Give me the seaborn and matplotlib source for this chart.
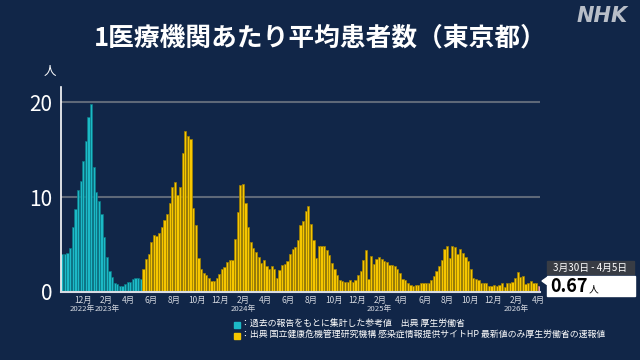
import matplotlib
matplotlib.use("Agg")
import matplotlib.pyplot as plt
from matplotlib.patches import Rectangle, Polygon
import seaborn as sns
import pandas as pd

# ----------------------------------------------------------
# data (weekly values)
# ----------------------------------------------------------
first_week = "2022-10-03"

ref_values = [4.0, 4.0, 4.1, 4.6, 6.9, 8.7, 10.7, 11.7, 13.8, 15.9, 18.4, 19.8, 13.2,
              10.5, 9.6, 8.2, 5.8, 3.7, 2.2, 1.6, 0.9, 0.8, 0.6, 0.6, 0.8, 1.1, 1.1,
              1.4, 1.5, 1.5, 1.4]

jihs_values = [2.4, 3.5, 4.0, 5.3, 6.0, 5.9, 6.2, 6.8, 7.6, 8.2, 9.4, 11.1, 11.6, 10.2,
               11.1, 14.6, 17.0, 16.4, 16.1, 8.9, 7.1, 3.6,
               2.4, 2.0, 1.8, 1.5, 1.2, 1.2, 1.5, 1.9, 2.4, 2.6, 3.2, 3.4, 3.4, 5.6,
               8.4, 11.3, 11.4, 9.4, 6.9, 5.3, 4.6, 4.2, 3.7, 3.1, 3.4, 2.7, 2.4, 2.7,
               2.4, 1.5, 2.3, 2.8, 3.0, 3.3, 4.0, 4.5, 4.7, 5.5, 7.1, 7.5, 8.5, 9.1,
               7.2, 5.5, 3.6, 4.8, 4.8, 4.8, 4.4, 3.9, 3.1, 2.4, 1.8, 1.3, 1.2, 1.1,
               1.1, 1.3, 1.1, 1.3, 1.8,
               2.2, 3.4, 4.4, 1.4, 3.8, 2.9, 3.5, 3.7, 3.5, 3.3, 3.2, 2.8, 2.8, 2.7,
               2.4, 2.0, 1.4, 1.3, 1.0, 0.7, 0.6, 0.7, 0.7, 0.9, 1.0, 0.9, 0.9, 1.3,
               1.7, 2.2, 2.7, 3.4, 4.5, 4.8, 3.6, 4.8, 4.7, 4.0, 4.5, 4.1, 3.7, 3.3,
               2.4, 1.5, 1.4, 1.3, 1.0, 1.0, 0.9, 0.6, 0.6, 0.7, 0.6, 0.7, 0.9, 0.5,
               0.9, 0.9, 1.1, 1.5, 2.1,
               1.6, 1.65, 0.85, 1.0, 1.15, 1.0, 1.0]

latest_values = [0.67]

month_ticks = ["2022-12-01", "2023-02-01", "2023-04-01", "2023-06-01", "2023-08-01",
               "2023-10-01", "2023-12-01", "2024-02-01", "2024-04-01", "2024-06-01",
               "2024-08-01", "2024-10-01", "2024-12-01", "2025-02-01", "2025-04-01",
               "2025-06-01", "2025-08-01", "2025-10-01", "2025-12-01", "2026-02-01",
               "2026-04-01"]
year_ticks = {"2022-12-01": "2022年", "2023-02-01": "2023年", "2024-02-01": "2024年",
              "2025-02-01": "2025年", "2026-02-01": "2026年"}

title = "1医療機関あたり平均患者数（東京都）"
legend_ref = "：過去の報告をもとに集計した参考値　出典 厚生労働省"
legend_jihs = "：出典 国立健康危機管理研究機構 感染症情報提供サイトHP 最新値のみ厚生労働省の速報値"
latest_period = "3月30日 - 4月5日"

# ----------------------------------------------------------
# style
# ----------------------------------------------------------
BG = "#112648"
colors = {"ref": "#1cb9c6", "jihs": "#f6c600", "latest": "#f2a3ab"}
edges = {"ref": "#0b7a86", "jihs": "#a08000", "latest": "#c07880"}

sns.set_style("white")
plt.rcParams["font.family"] = ["Noto Sans CJK JP", "DejaVu Sans"]

kinds = ["ref"] * len(ref_values) + ["jihs"] * len(jihs_values) + ["latest"] * len(latest_values)
values = ref_values + jihs_values + latest_values
weeks = pd.date_range(first_week, periods=len(values), freq="7D")
df = pd.DataFrame({"week": weeks.strftime("%Y-%m-%d"), "value": values, "kind": kinds})
n = len(df)


def fx(px):
    return px / 640


def fy(py):
    return 1 - py / 360


def week_pos(d):
    # position of a calendar date on the weekly bar scale
    return ((pd.Timestamp(d) - pd.Timestamp(first_week)).days - 3) / 7


fig = plt.figure(figsize=(6.4, 3.6), dpi=100, facecolor=BG)
ax = fig.add_axes([fx(61), fy(292), 479 / 640, 205 / 360])
ax.set_facecolor(BG)

sns.barplot(data=df, x="week", y="value", hue="kind", hue_order=["ref", "jihs", "latest"],
            palette=colors, dodge=False, width=0.85, saturation=1, legend=False, ax=ax)
for patch, k in zip(ax.patches, df["kind"]):
    patch.set_edgecolor(edges[k])
    patch.set_linewidth(0.5)

ax.set_xlim(-0.5, n - 0.5)
ax.set_ylim(0, 21.6)
ax.set_axisbelow(True)
ax.set_yticks([0, 10, 20])
ax.set_yticklabels(["0", "10", "20"], fontsize=15, color="white")
ax.yaxis.grid(True, color="#5e6878", lw=1.5)
ax.xaxis.grid(False)

ax.set_xticks([week_pos(d) for d in month_ticks])
ax.set_xticklabels([f"{pd.Timestamp(d).month}月" for d in month_ticks], fontsize=6, color="#d4d8e0")
ax.tick_params(length=0)
ax.tick_params(axis="y", pad=6)
ax.tick_params(axis="x", pad=3.2)
ax.set_xlabel("")
ax.set_ylabel("")

# year labels; the first two sit back to back
first_two = list(year_ticks)[:2]
mid = (week_pos(first_two[0]) + week_pos(first_two[1])) / 2
for d, lab in year_ticks.items():
    if d == first_two[0]:
        p, ha = mid, "right"
    elif d == first_two[1]:
        p, ha = mid, "left"
    else:
        p, ha = week_pos(d), "center"
    ax.text(p, -16.5 / 205, lab, transform=ax.get_xaxis_transform(), ha=ha, va="center",
            fontsize=5.6, color="#d4d8e0")

for s in ["top", "right"]:
    ax.spines[s].set_visible(False)
ax.spines["left"].set_color("white")
ax.spines["left"].set_linewidth(1.2)
ax.spines["bottom"].set_color("#d8dce4")
ax.spines["bottom"].set_linewidth(1.5)

# texts
fig.text(fx(320), fy(38), title, ha="center", va="center", fontsize=18.5, weight="bold", color="white")
fig.text(fx(602), fy(16), "NHK", ha="center", va="center", fontsize=15, style="italic",
         weight="heavy", color="#b8bec8", family="DejaVu Sans")
fig.text(fx(50), fy(72), "人", ha="center", va="center", fontsize=9, color="white")

# legend
fig.patches.append(Rectangle((fx(234), fy(328)), 6 / 640, 6 / 360, transform=fig.transFigure,
                             color=colors["ref"]))
fig.patches.append(Rectangle((fx(234), fy(339)), 6 / 640, 6 / 360, transform=fig.transFigure,
                             color=colors["jihs"]))
fig.text(fx(241), fy(323), legend_ref, ha="left", va="center", fontsize=6.4, color="white")
fig.text(fx(241), fy(334.5), legend_jihs, ha="left", va="center", fontsize=6.4, color="white")

# latest value box
fig.patches.append(Rectangle((fx(547), fy(274)), 87 / 640, 13 / 360, transform=fig.transFigure,
                             color="#383c44"))
fig.patches.append(Rectangle((fx(547), fy(296)), 88 / 640, 20 / 360, transform=fig.transFigure,
                             color="white"))
fig.patches.append(Polygon([(fx(542), fy(281)), (fx(547), fy(277.5)), (fx(547), fy(284.5))],
                           closed=True, transform=fig.transFigure, color="white"))
fig.text(fx(590), fy(267.5), latest_period, ha="center", va="center", fontsize=7, color="white")
fig.text(fx(550), fy(287), f"{latest_values[-1]:.2f}", ha="left", va="center", fontsize=13,
         weight="bold", color="black")
fig.text(fx(589), fy(289), "人", ha="left", va="center", fontsize=7, color="black")

fig.savefig("out.png", dpi=100, facecolor=BG)
